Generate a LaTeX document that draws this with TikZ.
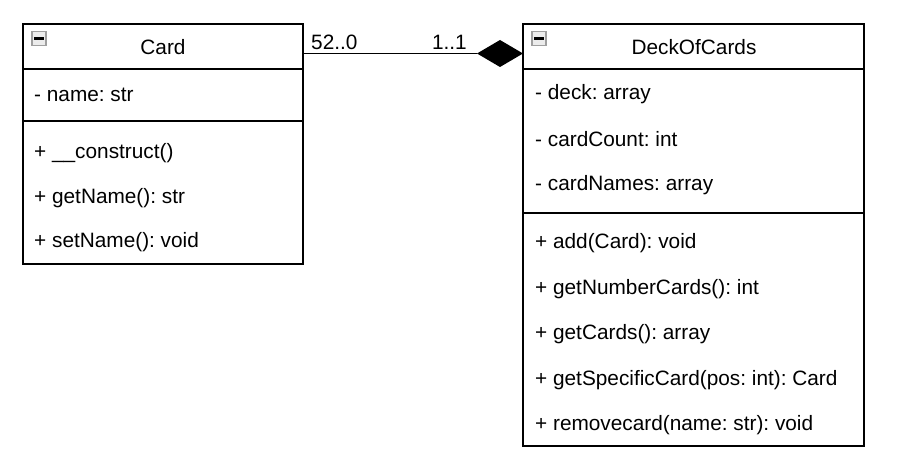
\documentclass[tikz,border=0pt]{standalone}
\usepackage{fontspec}
\setmainfont{Liberation Sans}
\frenchspacing
\usetikzlibrary{positioning}
\tikzset{
  box/.style={draw=black, line width=1.2pt},
  sep/.style={draw=black, line width=1.2pt},
  txt/.style={anchor=west, inner sep=0pt, font=\fontsize{20.8}{23}\selectfont},
  ttl/.style={inner sep=0pt, font=\fontsize{20.8}{23}\selectfont},
  mult/.style={inner sep=0pt, font=\fontsize{20.8}{23}\selectfont},
  icon/.style={draw=gray!75, fill=gray!15, line width=1.2pt, minimum size=14pt, inner sep=0pt},
  conn/.style={draw=black, line width=1.2pt},
}
\begin{document}
\begin{tikzpicture}[x=1pt,y=-1pt]
\useasboundingbox (0,0) rectangle (902,473);
% Card class
\node[box, minimum width=280pt, minimum height=240pt, inner sep=0pt] (card) at (163,144) {};
\draw[sep] (23,69) -- (303,69);
\draw[sep] (23,121) -- (303,121);
\node[icon] (cardicon) at (39,38.5) {};
\draw[line width=2.5pt] (34,38.5) -- (44,38.5);
\node[ttl] (cardtitle) at (163,47) {Card};
\node[txt] (ca1) at (34,95) {- name: str};
\node[txt] (cm1) at (34,153) {+ \_\_construct()};
\node[txt] (cm2) at (34,198) {+ getName(): str};
\node[txt] (cm3) at (34,242) {+ setName(): void};
% DeckOfCards class
\node[box, minimum width=341pt, minimum height=422pt, inner sep=0pt] (deck) at (693.5,235) {};
\draw[sep] (523,69) -- (864,69);
\draw[sep] (523,213) -- (864,213);
\node[icon] (deckicon) at (539,38.5) {};
\draw[line width=2.5pt] (534,38.5) -- (544,38.5);
\node[ttl] (decktitle) at (694,47) {DeckOfCards};
\node[txt] (da1) at (535,94) {- deck: array};
\node[txt] (da2) at (535,139) {- cardCount: int};
\node[txt] (da3) at (535,185) {- cardNames: array};
\node[txt] (dm1) at (535,243) {+ add(Card): void};
\node[txt] (dm2) at (535,289) {+ getNumberCards(): int};
\node[txt] (dm3) at (535,334) {+ getCards(): array};
\node[txt] (dm4) at (535,380) {+ getSpecificCard(pos: int): Card};
\node[txt] (dm5) at (535,425) {+ removecard(name: str): void};
% association (composition)
\coordinate (a) at (303,53.5);
\coordinate (b) at (523,53.5);
\coordinate (dl) at (477,53.5);
\draw[conn] (a) -- (dl);
\fill[black] (b) -- (500,40) -- (dl) -- (500,67) -- cycle;
\node[mult, anchor=west] (m1) at (311,42.5) {52..0};
\node[mult, anchor=east] (m2) at (467,42.5) {1..1};
\end{tikzpicture}
\end{document}
